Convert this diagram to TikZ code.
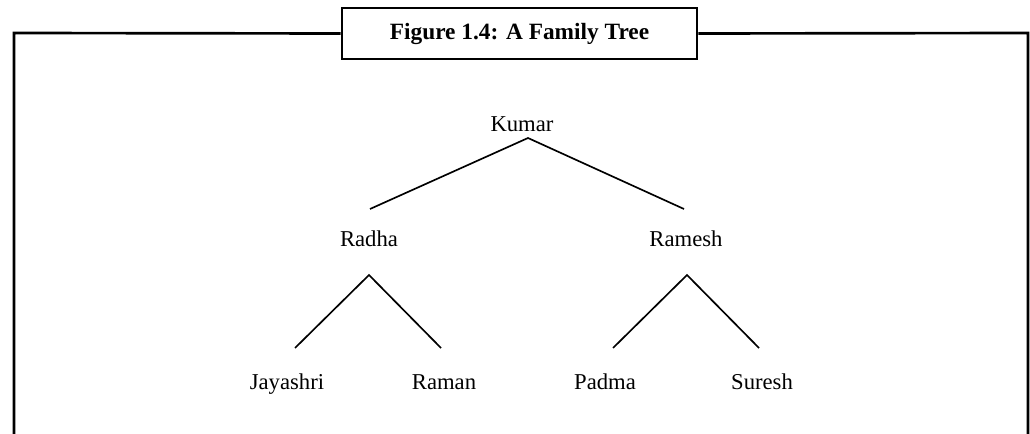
\documentclass[tikz,border=0pt]{standalone}
\usepackage{fontspec}
\setmainfont{Liberation Serif}
\begin{document}
\begin{tikzpicture}[x=0.75pt,y=-0.75pt,
  person/.style={font=\fontsize{17}{20}\selectfont, inner sep=0pt, anchor=base},
  frameline/.style={line width=2pt},
  branch/.style={line width=1.25pt}]
\useasboundingbox (0,0) rectangle (1030,434);
% frame
\node[draw, frameline, minimum width=355*0.75pt, minimum height=51*0.75pt, inner sep=0pt,
      font=\bfseries\fontsize{17.5}{20}\selectfont] (title) at (519.5,33.5) {Figure 1.4: A Family Tree};
\coordinate (bl) at (14,434);
\coordinate (tl) at (14,33);
\coordinate (tr) at (1028,33);
\coordinate (br) at (1028,434);
\draw[frameline] (bl) -- (tl) -- (title.west);
\draw[frameline] (title.east) -- (tr) -- (br);
% names
\node[person] (kumar) at (522,132) {Kumar};
\node[person] (radha) at (369,247) {Radha};
\node[person] (ramesh) at (686,247) {Ramesh};
\node[person] (jayashri) at (287,389) {Jayashri};
\node[person] (raman) at (444,389) {Raman};
\node[person] (padma) at (605,389) {Padma};
\node[person] (suresh) at (762,389) {Suresh};
% branch points
\coordinate (k0) at (528,138);
\coordinate (ka) at (370,209);
\coordinate (kb) at (684,209);
\coordinate (r0) at (369,275);
\coordinate (ra) at (295,348);
\coordinate (rb) at (441,348);
\coordinate (s0) at (687,275);
\coordinate (sa) at (613,348);
\coordinate (sb) at (759,348);
\draw[branch] (ka) -- (k0) -- (kb);
\draw[branch] (ra) -- (r0) -- (rb);
\draw[branch] (sa) -- (s0) -- (sb);
\end{tikzpicture}
\end{document}
